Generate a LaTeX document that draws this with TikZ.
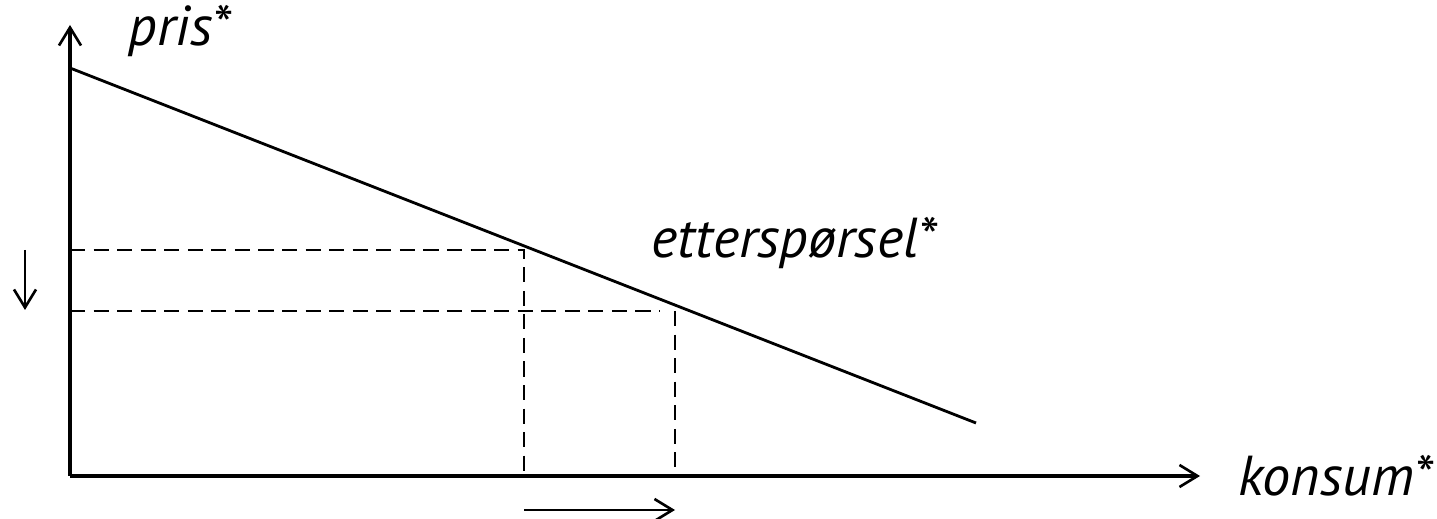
\documentclass[tikz,border=0pt]{standalone}
\usepackage{fontspec}
\setmainfont{PT Sans}
\usetikzlibrary{arrows.meta}
\begin{document}
\begin{tikzpicture}[x=0.01cm,y=-0.01cm,
  axis/.style={line width=0.9pt,-{Straight Barb[length=1.8mm,width=2.2mm,line width=0.75pt]}},
  shiftarrow/.style={line width=0.75pt,-{Straight Barb[length=1.8mm,width=2.2mm,line width=0.75pt]}},
  guide/.style={line width=0.75pt,dash pattern=on 4.3pt off 2.4pt},
  lbl/.style={font=\itshape\fontsize{16}{19}\selectfont,inner sep=0pt}]
\useasboundingbox (0,0) rectangle (1437,519);
\coordinate (O) at (70,476);
\coordinate (ytip) at (70,25);
\coordinate (xtip) at (1200,476);
\coordinate (d0) at (70,68);
\coordinate (d1) at (976,423);
\coordinate (p1) at (70,250);
\coordinate (q1) at (524,250);
\coordinate (q1b) at (524,476);
\coordinate (p2) at (70,311);
\coordinate (q2) at (660,311);
\coordinate (q2t) at (675,311);
\coordinate (q2b) at (675,476);
\draw[guide] (p1) -- (q1) -- (q1b);
\draw[guide] (p2) -- (q2);
\draw[guide] (q2t) -- (q2b);
\draw[line width=0.8pt] (d0) -- (d1);
\draw[axis] (O) -- (ytip);
\draw[axis] (O) -- (xtip);
\coordinate (da0) at (25,250);
\coordinate (da1) at (25,310);
\draw[shiftarrow] (da0) -- (da1);
\coordinate (ra0) at (524,510);
\coordinate (ra1) at (675,510);
\draw[shiftarrow] (ra0) -- (ra1);
\node[lbl,anchor=base west] (pris) at (128,46) {pris*};
\node[lbl,anchor=base west] (konsum) at (1238,495) {konsum*};
\node[lbl,anchor=base west] (ettersp) at (651,258) {etterspørsel*};
\end{tikzpicture}
\end{document}
